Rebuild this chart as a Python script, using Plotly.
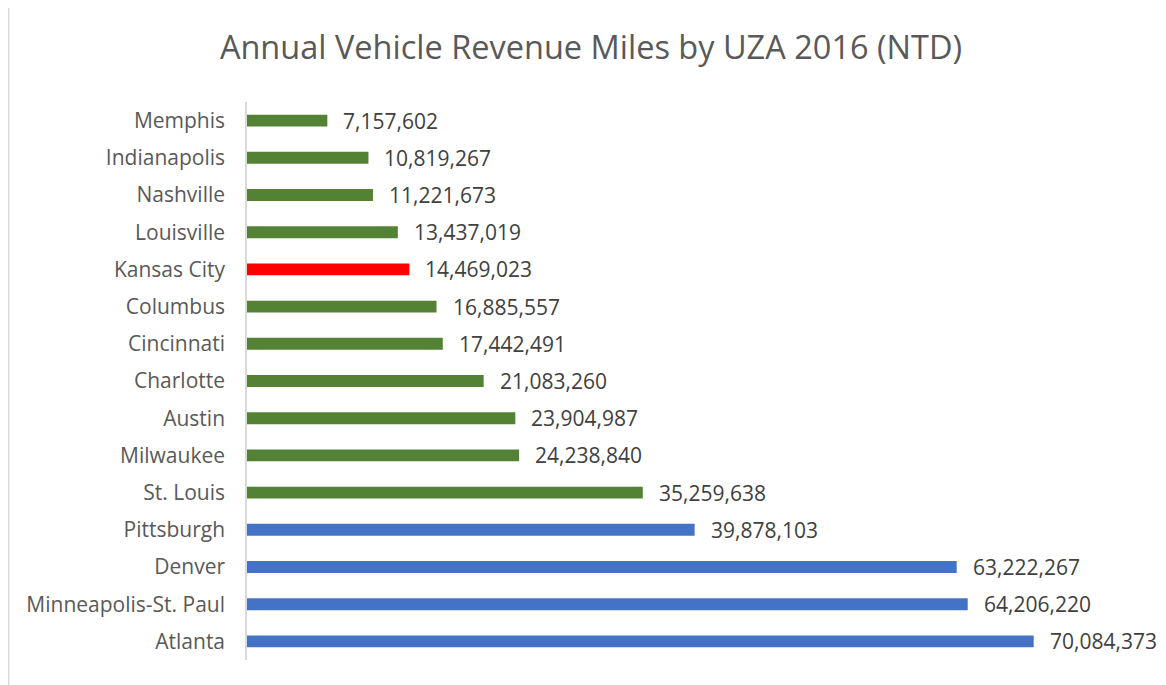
import plotly.graph_objects as go

cities = ["Memphis", "Indianapolis", "Nashville", "Louisville", "Kansas City", "Columbus",
          "Cincinnati", "Charlotte", "Austin", "Milwaukee", "St. Louis", "Pittsburgh",
          "Denver", "Minneapolis-St. Paul", "Atlanta"]
miles = [7157602, 10819267, 11221673, 13437019, 14469023, 16885557, 17442491, 21083260,
         23904987, 24238840, 35259638, 39878103, 63222267, 64206220, 70084373]
groups = ["peer"] * 4 + ["kc"] + ["peer"] * 6 + ["big"] * 4

color_map = {"peer": "#548235", "kc": "#FF0000", "big": "#4472C4"}
colors = [color_map[g] for g in groups]

fig = go.Figure(go.Bar(
    x=miles, y=cities, orientation="h",
    marker=dict(color=colors, line=dict(width=0)),
    hoverinfo="x+y",
))

for c, v in zip(cities, miles):
    fig.add_annotation(x=v, y=c, text=f"{v:,}", showarrow=False, xanchor="left",
                       xshift=14, font=dict(family="Open Sans", size=21, color="#404040"))

L, T = 239, 94
fig.update_layout(
    width=1166, height=685,
    margin=dict(l=L, r=29, t=T, b=33),
    paper_bgcolor="white", plot_bgcolor="white",
    bargap=0.68,
    showlegend=False,
    title=dict(text="Annual Vehicle Revenue Miles by UZA 2016 (NTD)", x=0.5, xref="container",
               xanchor="center", y=1 - 40 / 685, yanchor="middle", yref="container",
               font=dict(family="Open Sans", size=32.5, color="#595959")),
    xaxis=dict(range=[0, 80000000], visible=False, showgrid=False, zeroline=False),
    yaxis=dict(autorange="reversed", showline=True, linecolor="#D9D9D9", linewidth=1.5,
               ticks="", ticklabelstandoff=16,
               tickfont=dict(family="Open Sans", size=21, color="#595959")),
    shapes=[dict(type="line", xref="paper", yref="paper", x0=-0.2653, x1=-0.2653,
                 y0=-0.1, y1=1.2, line=dict(color="#D9D9D9", width=1.5))],
)

fig.write_html("out.html")
